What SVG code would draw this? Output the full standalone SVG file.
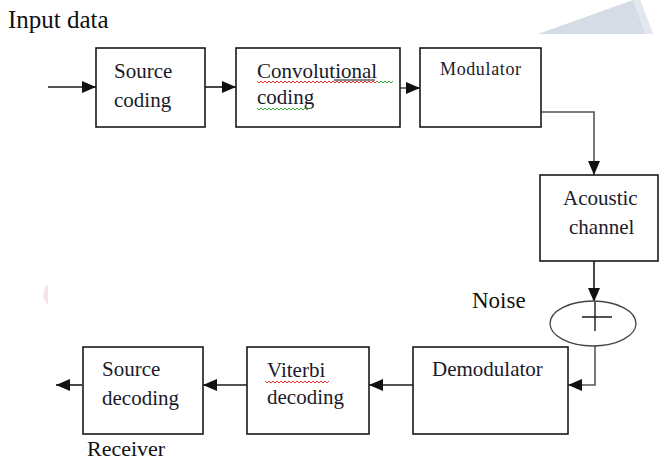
<svg xmlns="http://www.w3.org/2000/svg" width="660" height="463" viewBox="0 0 660 463">
<style>
.box{fill:#fff;stroke:#1a1a1a;stroke-width:1.6}
.t{font-family:"Liberation Serif","Times New Roman",serif;font-size:21px;fill:#1a1a2a}
.lbl{font-family:"Liberation Serif","Times New Roman",serif;font-size:23px;fill:#111}
.c{fill:none;stroke:#1a1a1a;stroke-width:1.6}
.g{stroke:#555}
.sqr{fill:none;stroke:#e33;stroke-width:1}
.sqg{fill:none;stroke:#3a3;stroke-width:1}
</style>
<defs>
<marker id="ah" viewBox="0 0 14 12" refX="14" refY="6" markerWidth="14" markerHeight="12" markerUnits="userSpaceOnUse" orient="auto">
<path d="M0,0 L14,6 L0,12 z" fill="#111"/>
</marker>
</defs>
<g id="decor">
<polygon points="538,34 633,0 640,0 653,34" fill="#d6dce5"/>
<polygon points="633,0 640,0 653,34 645,34" fill="#e3e7ee"/>
<polygon points="45,287 48,285 48,306 43,297" fill="#f6e3e3"/>
</g>
<text class="lbl" x="8" y="28" style="font-size:25px">Input data</text>
<g id="connectors">
<path class="c" d="M48,87 H96" marker-end="url(#ah)"/>
<path class="c" d="M205,87 H236" marker-end="url(#ah)"/>
<path class="c g" d="M398,88 H420" marker-end="url(#ah)"/>
<path class="c g" d="M541,112 H594 V175" marker-end="url(#ah)"/>
<path class="c" d="M594,261 V302" marker-end="url(#ah)"/>
<path class="c g" d="M595,346 V385 H568" marker-end="url(#ah)"/>
<path class="c" d="M413,385 H369" marker-end="url(#ah)"/>
<path class="c" d="M247,385 H203" marker-end="url(#ah)"/>
<path class="c" d="M82,385 H56" marker-end="url(#ah)"/>
</g>
<g id="source-coding">
<rect class="box" x="96" y="48" width="109" height="79"/>
<text class="t" x="114" y="78">Source</text>
<text class="t" x="114" y="107">coding</text>
</g>
<g id="convolutional-coding">
<rect class="box" x="236" y="48" width="164" height="79"/>
<text class="t" x="257" y="78">Convolutional</text>
<path d="M334,80 H375" stroke="#111" stroke-width="1"/>
<path class="sqr" d="M257,81 l2,2 l2,-2 l2,2 l2,-2 l2,2 l2,-2 l2,2 l2,-2 l2,2 l2,-2 l2,2 l2,-2 l2,2 l2,-2 l2,2 l2,-2 l2,2 l2,-2 l2,2 l2,-2 l2,2 l2,-2 l2,2 l2,-2 l2,2 l2,-2 l2,2 l2,-2 l2,2 l2,-2 l2,2 l2,-2 l2,2 l2,-2 l2,2 l2,-2 l2,2 l2,-2 l2,2 l2,-2 l2,2 l2,-2 l2,2 l2,-2 l2,2 l2,-2 l2,2 l2,-2 l2,2 l2,-2 l2,2 l2,-2 l2,2 l2,-2 l2,2 l2,-2 l2,2 l2,-2 l2,2 l2,-2 l2,2 l2,-2 l2,2 l2,-2 l2,2"/>
<path class="sqg" d="M377,81 l2,2 l2,-2 l2,2 l2,-2 l2,2 l2,-2 l2,2 l2,-2"/>
<text class="t" x="257" y="104">coding</text>
<path class="sqg" d="M257,108 l2,2 l2,-2 l2,2 l2,-2 l2,2 l2,-2 l2,2 l2,-2 l2,2 l2,-2 l2,2 l2,-2 l2,2 l2,-2 l2,2 l2,-2 l2,2 l2,-2 l2,2 l2,-2 l2,2 l2,-2 l2,2 l2,-2 l2,2 l2,-2"/>
</g>
<g id="modulator">
<rect class="box" x="420" y="48" width="121" height="79"/>
<text class="t" x="440" y="75" style="font-size:18px" textLength="81" lengthAdjust="spacing">Modulator</text>
</g>
<g id="acoustic-channel">
<rect class="box" x="540" y="175" width="118" height="86"/>
<text class="t" x="563" y="205">Acoustic</text>
<text class="t" x="569" y="234">channel</text>
</g>
<g id="noise">
<text class="lbl" x="472" y="308">Noise</text>
<ellipse cx="593" cy="323.5" rx="43" ry="22.5" fill="#fff" stroke="#444" stroke-width="1.3"/>
<path d="M595,302 V331 M582,317 H612" stroke="#1a1a1a" stroke-width="1.4" fill="none"/>
</g>
<g id="demodulator">
<rect class="box" x="413" y="347" width="155" height="87"/>
<text class="t" x="432" y="376">Demodulator</text>
</g>
<g id="viterbi-decoding">
<rect class="box" x="247" y="347" width="122" height="87"/>
<text class="t" x="267" y="377">Viterbi</text>
<path class="sqr" d="M265,381 l2,2 l2,-2 l2,2 l2,-2 l2,2 l2,-2 l2,2 l2,-2 l2,2 l2,-2 l2,2 l2,-2 l2,2 l2,-2 l2,2 l2,-2 l2,2 l2,-2 l2,2 l2,-2 l2,2 l2,-2 l2,2 l2,-2 l2,2 l2,-2 l2,2 l2,-2 l2,2 l2,-2 l2,2 l2,-2"/>
<text class="t" x="267" y="404">decoding</text>
</g>
<g id="source-decoding">
<rect class="box" x="83" y="347" width="120" height="87"/>
<text class="t" x="102" y="376">Source</text>
<text class="t" x="102" y="405">decoding</text>
</g>
<text class="lbl" x="87" y="456" style="font-size:22px">Receiver</text>
</svg>
